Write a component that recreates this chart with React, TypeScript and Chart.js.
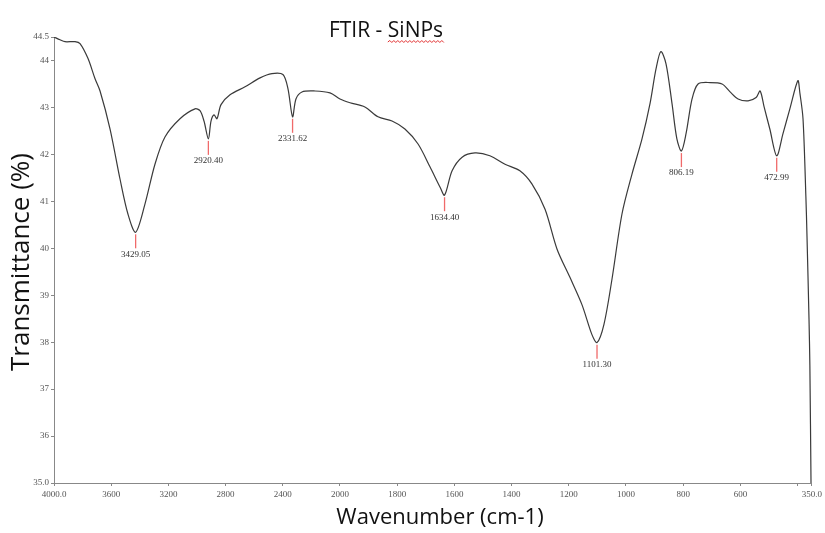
import React, { useEffect, useRef } from 'react';
import { Chart, registerables } from 'chart.js';

Chart.register(...registerables);

// Spectrum (wavenumber in cm-1, transmittance in %)
const wavenumbers = [
  4000, 3958, 3923, 3853, 3818, 3762, 3713, 3678, 3608, 3538, 3483, 3429.05,
  3364, 3294, 3224, 3119, 3014, 2979, 2951, 2920.4, 2902, 2881, 2860, 2832,
  2769, 2664, 2559, 2476, 2399, 2364, 2331.62, 2308, 2266, 2175, 2070, 2000,
  1965, 1913, 1867, 1818, 1773, 1727, 1685, 1650, 1634.4, 1608, 1573, 1528,
  1476, 1423, 1371, 1329, 1283, 1241, 1196, 1154, 1119, 1101.3, 1077, 1049,
  1014, 979, 944, 916, 895, 878, 860, 839, 822, 806.19, 790, 769, 748, 706,
  664, 636, 608, 573, 545, 531, 517, 497, 472.99, 451, 427, 399, 392, 381,
  371, 367, 360, 357, 353,
];
const transmittance = [
  44.5, 44.44, 44.4, 44.4, 44.36, 44.04, 43.61, 43.35, 42.54, 41.47, 40.73, 40.34,
  40.94, 41.79, 42.37, 42.76, 42.97, 42.93, 42.71, 42.33, 42.71, 42.84, 42.76, 43.06,
  43.27, 43.44, 43.63, 43.72, 43.7, 43.4, 42.8, 43.18, 43.33, 43.35, 43.31, 43.18,
  43.1, 43.01, 42.8, 42.71, 42.54, 42.22, 41.73, 41.3, 41.13, 41.65, 41.94, 42.03,
  41.97, 41.79, 41.65, 41.37, 40.83, 39.98, 39.38, 38.8, 38.16, 37.99, 38.38, 39.34,
  40.73, 41.58, 42.33, 43.08, 43.82, 44.19, 43.93, 43.08, 42.33, 42.07, 42.44, 43.18, 43.5, 43.53,
  43.5, 43.33, 43.18, 43.14, 43.21, 43.35, 43.01, 42.54, 41.97, 42.44, 42.97, 43.57, 43.31, 42.76,
  41.11, 40.24, 38.48, 37.5, 35.0,
];

const peakWavenumbers = [3429.05, 2920.4, 2331.62, 1634.4, 1101.3, 806.19, 472.99];
const peakValues = [40.34, 42.33, 42.8, 41.13, 37.99, 42.07, 41.97];
const peakLabels = ['3429.05', '2920.40', '2331.62', '1634.40', '1101.30', '806.19', '472.99'];

const xTickValues = [4000, 3600, 3200, 2800, 2400, 2000, 1800, 1600, 1400, 1200, 1000, 800, 600, 400, 350];
const xTickLabels = ['4000.0', '3600', '3200', '2800', '2400', '2000', '1800', '1600', '1400', '1200', '1000', '800', '600', '', '350.0'];
const yTickValues = [35, 36, 37, 38, 39, 40, 41, 42, 43, 44, 44.5];
const yTickLabels = ['35.0', '36', '37', '38', '39', '40', '41', '42', '43', '44', '44.5'];

const chartTitle = 'FTIR - ';
const chartTitleWord = 'SiNPs';
const xTitle = 'Wavenumber (cm-1)';
const yTitle = 'Transmittance (%)';

// FTIR axis: scale halves above 2000 cm-1
const toAxis = (w: number) => (w >= 2000 ? (4000 - w) / 2 : 1000 + (2000 - w));

const W = 825;
const H = 533;

const textPlugin = {
  id: 'ftirText',
  afterDraw(chart: any) {
    const ctx = chart.ctx;
    const xs = chart.scales.x;
    const ys = chart.scales.y;
    ctx.save();
    // peak markers
    peakWavenumbers.forEach((w, i) => {
      const px = xs.getPixelForValue(toAxis(w));
      const py = ys.getPixelForValue(peakValues[i]);
      ctx.strokeStyle = '#f06a6a';
      ctx.lineWidth = 1.3;
      ctx.beginPath();
      ctx.moveTo(px, py + 2);
      ctx.lineTo(px, py + 16);
      ctx.stroke();
      ctx.fillStyle = '#333';
      ctx.font = '9px "Liberation Serif", serif';
      ctx.textAlign = 'center';
      ctx.textBaseline = 'middle';
      ctx.fillText(peakLabels[i], px, py + 22);
    });
    // chart title
    ctx.font = '21px "Open Sans", sans-serif';
    ctx.fillStyle = '#111';
    ctx.textAlign = 'left';
    ctx.textBaseline = 'alphabetic';
    const w1 = ctx.measureText(chartTitle).width;
    const w2 = ctx.measureText(chartTitleWord).width;
    const startX = 386 - (w1 + w2) / 2;
    ctx.fillText(chartTitle, startX, 37);
    ctx.fillText(chartTitleWord, startX + w1, 37);
    // spell-check squiggle
    ctx.strokeStyle = '#e03030';
    ctx.lineWidth = 1;
    ctx.beginPath();
    let sx = startX + w1;
    const ex = startX + w1 + w2;
    let up = true;
    ctx.moveTo(sx, 42);
    while (sx < ex) {
      sx += 2;
      ctx.lineTo(sx, up ? 40.5 : 42.5);
      up = !up;
    }
    ctx.stroke();
    // axis titles
    ctx.font = '22px "Open Sans", sans-serif';
    ctx.fillStyle = '#111';
    ctx.textAlign = 'center';
    ctx.textBaseline = 'middle';
    ctx.fillText(xTitle, 440, 518);
    ctx.font = '26px "Open Sans", sans-serif';
    ctx.translate(22, 262);
    ctx.rotate(-Math.PI / 2);
    ctx.fillText(yTitle, 0, 0);
    ctx.restore();
  },
};

export default function App() {
  const ref = useRef<HTMLCanvasElement | null>(null);
  useEffect(() => {
    if (!ref.current) return;
    const chart = new Chart(ref.current, {
      type: 'line',
      data: {
        datasets: [
          {
            data: wavenumbers.map((w, i) => ({ x: toAxis(w), y: transmittance[i] })),
            borderColor: '#3a3a3a',
            borderWidth: 1.2,
            pointRadius: 0,
            tension: 0.3,
            fill: false,
          },
        ],
      },
      options: {
        animation: false,
        responsive: false,
        parsing: false,
        layout: { padding: { top: 37, right: 13, bottom: 0, left: 0 } },
        plugins: { legend: { display: false }, tooltip: { enabled: false }, title: { display: false } },
        scales: {
          x: {
            type: 'linear',
            min: 0,
            max: toAxis(350),
            afterFit: (s: any) => {
              s.height = 50;
            },
            afterBuildTicks: (s: any) => {
              s.ticks = xTickValues.map((w) => ({ value: toAxis(w) }));
            },
            grid: { display: true, drawOnChartArea: false, drawTicks: true, tickLength: 3, color: '#888' },
            border: { display: true, color: '#888', width: 1 },
            ticks: {
              autoSkip: false,
              maxRotation: 0,
              padding: 3,
              color: '#555',
              font: { family: '"Liberation Serif", serif', size: 9 },
              callback: (_v: any, i: number) => xTickLabels[i],
            },
          },
          y: {
            type: 'linear',
            min: 35,
            max: 44.5,
            afterFit: (s: any) => {
              s.width = 54;
            },
            afterBuildTicks: (s: any) => {
              s.ticks = yTickValues.map((v) => ({ value: v }));
            },
            grid: { display: true, drawOnChartArea: false, drawTicks: true, tickLength: 3, color: '#888' },
            border: { display: true, color: '#888', width: 1 },
            ticks: {
              autoSkip: false,
              padding: 2,
              color: '#555',
              font: { family: '"Liberation Serif", serif', size: 9 },
              callback: (_v: any, i: number) => yTickLabels[i],
            },
          },
        },
      },
      plugins: [textPlugin],
    } as any);
    return () => chart.destroy();
  }, []);
  return (
    <div style={{ position: 'fixed', left: 0, top: 0, width: W, height: H, background: '#fff' }}>
      <canvas ref={ref} width={W} height={H} />
    </div>
  );
}
